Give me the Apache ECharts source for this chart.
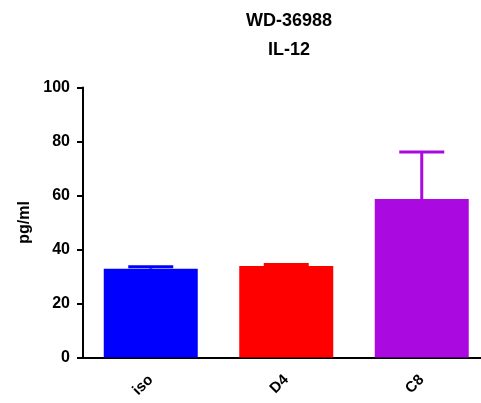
<!DOCTYPE html>
<html>
<head>
<meta charset="utf-8">
<script src="https://cdn.jsdelivr.net/npm/echarts@6/dist/echarts.min.js"></script>
<style>
html,body{margin:0;padding:0;background:#fff;}
#c{width:481px;height:403px;}
</style>
</head>
<body>
<div id="c"></div>
<script>
var categories = ['iso', 'D4', 'C8'];
var means = [32.9, 33.9, 58.7];
var errTops = [33.6, 34.4, 76.1];
var colors = ['#0000FF', '#FF0000', '#AA0ADF'];
var yTicks = [0, 20, 40, 60, 80, 100];

var chart = echarts.init(document.getElementById('c'), null, {renderer: 'canvas'});
var font = 'Liberation Sans, Arial, sans-serif';
var option = {
  animation: false,
  backgroundColor: '#ffffff',
  title: {
    text: 'WD-36988\nIL-12',
    left: 284,
    textAlign: 'center',
    top: 2,
    textStyle: {fontFamily: font, fontWeight: 'bold', fontSize: 18, lineHeight: 29, color: '#000'}
  },
  grid: {left: 83, width: 406.5, top: 87.5, bottom: 45.5, containLabel: false, outerBoundsMode: 'none'},
  xAxis: {
    type: 'category',
    data: categories,
    axisLine: {lineStyle: {color: '#000', width: 2}},
    axisTick: {alignWithLabel: true, length: 7, lineStyle: {color: '#000', width: 2}},
    axisLabel: {rotate: 45, margin: 20, fontFamily: font, fontWeight: 'bold', fontSize: 15, color: '#000'}
  },
  yAxis: {
    type: 'value',
    min: yTicks[0],
    max: yTicks[yTicks.length - 1],
    interval: yTicks[1] - yTicks[0],
    name: 'pg/ml',
    nameLocation: 'middle',
    nameRotate: 90,
    nameGap: 50,
    nameTextStyle: {fontFamily: font, fontWeight: 'bold', fontSize: 16, color: '#000'},
    splitLine: {show: false},
    axisLine: {show: true, lineStyle: {color: '#000', width: 2}},
    axisTick: {show: true, length: 6, lineStyle: {color: '#000', width: 2}},
    axisLabel: {margin: 13, fontFamily: font, fontWeight: 'bold', fontSize: 16, color: '#000'}
  },
  series: [
    {
      type: 'bar',
      barWidth: 94,
      data: means.map(function (v, i) { return {value: v, itemStyle: {color: colors[i]}}; })
    },
    {
      type: 'custom',
      z: 3,
      data: means.map(function (v, i) { return [i, v, errTops[i]]; }),
      renderItem: function (params, api) {
        var i = api.value(0);
        var base = api.coord([i, api.value(1)]);
        var top = api.coord([i, api.value(2)]);
        var half = 22.5;
        var c = colors[i];
        return {
          type: 'group',
          children: [
            {type: 'line', shape: {x1: base[0], y1: base[1], x2: top[0], y2: top[1]}, style: {stroke: c, lineWidth: 3}},
            {type: 'line', shape: {x1: top[0] - half, y1: top[1], x2: top[0] + half, y2: top[1]}, style: {stroke: c, lineWidth: 3}}
          ]
        };
      }
    }
  ]
};
chart.setOption(option);
</script>
</body>
</html>
